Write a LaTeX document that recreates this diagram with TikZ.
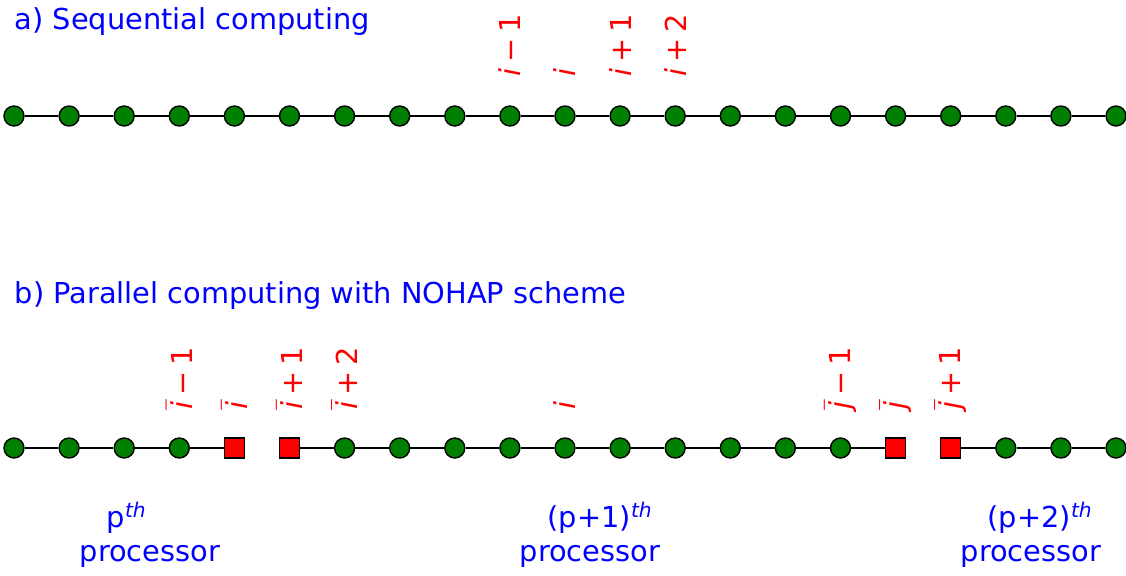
\documentclass[tikz,border=0pt]{standalone}
\usepackage{fontspec}
\setmainfont{DejaVu Sans}

\begin{document}
\begin{tikzpicture}[x=0.01cm, y=-0.01cm, font=\fontsize{8.2}{9.8}\selectfont,
    site/.style={circle, draw=black, fill=siteGreen, line width=0.4pt, minimum size=0.2cm, inner sep=0pt},
    ghost/.style={rectangle, draw=black, fill=red, line width=0.4pt, minimum size=0.2cm, inner sep=0pt},
    link/.style={line width=0.6pt},
    idx/.style={rotate=90, anchor=west, text=red, inner sep=0pt},
    caption/.style={text=blue, anchor=base west, inner sep=0pt}]

    % Define spacing of the grid points
    \def\dx{55.1}

    \definecolor{siteGreen}{HTML}{008000}

    % Fix the canvas
    \useasboundingbox (0,0) rectangle (1126,575);

    % Headings
    \node[caption] (titleA) at (14,29) {a) Sequential computing};
    \node[caption] (titleB) at (14,303) {b) Parallel computing with NOHAP scheme};

    % Draw the sequential grid
    \foreach \k in {0,...,20}
        \node[site] (a\k) at (14+\k*\dx,116) {};
    \foreach \k [evaluate=\k as \n using int(\k+1)] in {0,...,19}
        \draw[link] (a\k) -- (a\n);

    % Draw the parallel grid (squares are the halo points)
    \foreach \k in {0,...,20} {
        \ifnum\k=4 \node[ghost] (b\k) at (14+\k*\dx,448) {};
        \else\ifnum\k=5 \node[ghost] (b\k) at (14+\k*\dx,448) {};
        \else\ifnum\k=16 \node[ghost] (b\k) at (14+\k*\dx,448) {};
        \else\ifnum\k=17 \node[ghost] (b\k) at (14+\k*\dx,448) {};
        \else \node[site] (b\k) at (14+\k*\dx,448) {};
        \fi\fi\fi\fi
    }
    \foreach \k [evaluate=\k as \n using int(\k+1)] in {0,...,3,5,6,...,15,17,18,19}
        \draw[link] (b\k) -- (b\n);

    % Index labels, sequential
    \node[idx] (la9)  at ([yshift=0.39cm]a9.center)  {\textit{i}\hspace{0.2em}−\hspace{0.2em}1};
    \node[idx] (la10) at ([yshift=0.39cm]a10.center) {\textit{i}};
    \node[idx] (la11) at ([yshift=0.39cm]a11.center) {\textit{i}\hspace{0.2em}+\hspace{0.2em}1};
    \node[idx] (la12) at ([yshift=0.39cm]a12.center) {\textit{i}\hspace{0.2em}+\hspace{0.2em}2};

    % Index labels, parallel
    \node[idx] (lb3)  at ([yshift=0.38cm]b3.center)  {$\bar{\textit{i}}$\hspace{0.2em}−\hspace{0.2em}1};
    \node[idx] (lb4)  at ([yshift=0.38cm]b4.center)  {$\bar{\textit{i}}$};
    \node[idx] (lb5)  at ([yshift=0.38cm]b5.center)  {$\bar{\textit{i}}$\hspace{0.2em}+\hspace{0.2em}1};
    \node[idx] (lb6)  at ([yshift=0.38cm]b6.center)  {$\bar{\textit{i}}$\hspace{0.2em}+\hspace{0.2em}2};
    \node[idx] (lb10) at ([yshift=0.38cm]b10.center) {\textit{i}};
    \node[idx] (lb15) at ([yshift=0.38cm]b15.center) {$\bar{\textit{j}}$\hspace{0.2em}−\hspace{0.2em}1};
    \node[idx] (lb16) at ([yshift=0.38cm]b16.center) {$\bar{\textit{j}}$};
    \node[idx] (lb17) at ([yshift=0.38cm]b17.center) {$\bar{\textit{j}}$\hspace{0.2em}+\hspace{0.2em}1};

    % Processor captions
    \node[caption] (procP)   at (106,527) {p\textsuperscript{\textit{th}}};
    \node[caption] (procPw)  at (79,561)  {processor};
    \node[caption] (procQ)   at (547,527) {(p+1)\textsuperscript{\textit{th}}};
    \node[caption] (procQw)  at (519,561) {processor};
    \node[caption] (procR)   at (987,527) {(p+2)\textsuperscript{\textit{th}}};
    \node[caption] (procRw)  at (960,561) {processor};

\end{tikzpicture}
\end{document}
